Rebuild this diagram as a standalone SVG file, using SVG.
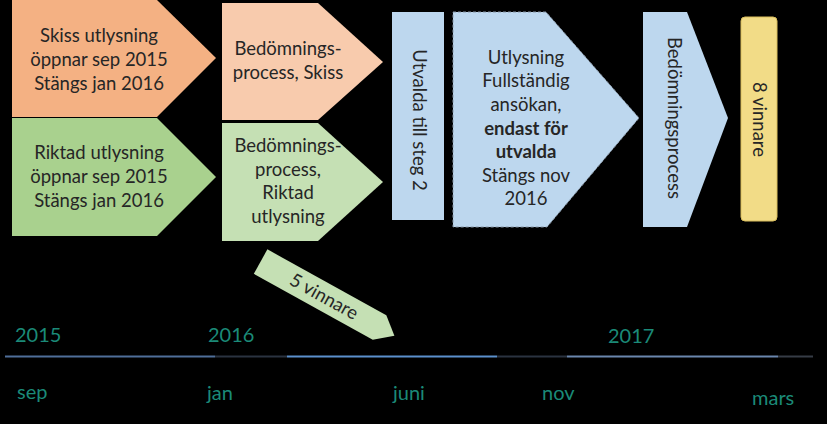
<svg xmlns="http://www.w3.org/2000/svg" width="827" height="424" viewBox="0 0 827 424">
<style>
.t{font-family:Lato,"Liberation Sans",sans-serif;font-size:18.5px;fill:#262626;text-anchor:middle}
.b{font-weight:bold}
.tl{font-family:Lato,"Liberation Sans",sans-serif;font-size:20px;fill:#1b8a78}
</style>
<rect x="0" y="0" width="827" height="424" fill="#000"/>
<g id="skiss-utlysning">
<polygon points="12,0 157,0 216,58 157,117 12,117" fill="#f4b183"/>
<text class="t"><tspan x="99" y="42">Skiss utlysning</tspan><tspan x="99" y="66">öppnar sep 2015</tspan><tspan x="99" y="90">Stängs jan 2016</tspan></text>
</g>
<g id="riktad-utlysning">
<polygon points="12,118 157,118 216,177 157,236 12,236" fill="#a9d18e"/>
<text class="t"><tspan x="99" y="159">Riktad utlysning</tspan><tspan x="99" y="183">öppnar sep 2015</tspan><tspan x="99" y="207">Stängs jan 2016</tspan></text>
</g>
<g id="bedomning-skiss">
<polygon points="222,3 318,3 383,62 318,120 222,120" fill="#f8cbad"/>
<text class="t"><tspan x="288" y="55">Bedömnings-</tspan><tspan x="288" y="79">process, Skiss</tspan></text>
</g>
<g id="bedomning-riktad">
<polygon points="222,123 318,123 383,182 318,241 222,241" fill="#c5e0b4"/>
<text class="t"><tspan x="288" y="152">Bedömnings-</tspan><tspan x="288" y="176">process,</tspan><tspan x="288" y="199">Riktad</tspan><tspan x="288" y="223">utlysning</tspan></text>
</g>
<g id="utvalda">
<rect x="392" y="12" width="52" height="208" fill="#bdd7ee"/>
<text class="t" transform="translate(419,120) rotate(90)" y="6.5">Utvalda till steg 2</text>
</g>
<g id="utlysning-fullstandig">
<polygon points="453,12 546,12 639,118 547,227 453,227" fill="#bdd7ee" stroke="#8796a6" stroke-width="1" stroke-dasharray="3,2"/>
<text class="t"><tspan x="526" y="64">Utlysning</tspan><tspan x="526" y="87">Fullständig</tspan><tspan x="526" y="111">ansökan,</tspan><tspan x="526" y="135" class="b">endast för</tspan><tspan x="526" y="158" class="b">utvalda</tspan><tspan x="526" y="182">Stängs nov</tspan><tspan x="526" y="205">2016</tspan></text>
</g>
<g id="bedomningsprocess">
<polygon points="643,12 687,12 728,118 687,227 643,227" fill="#bdd7ee"/>
<text class="t" transform="translate(674,118) rotate(90)" y="6.5">Bedömningsprocess</text>
</g>
<g id="vinnare8">
<rect x="741" y="17" width="36" height="204" rx="4" fill="#f2dc87" stroke="#d9bd5c" stroke-width="1"/>
<text class="t" transform="translate(759,119.5) rotate(90)" y="6.5">8 vinnare</text>
</g>
<g id="vinnare5">
<g transform="translate(327.5,298.7) rotate(29)">
<polygon points="-76.5,-14 59.5,-14 76.5,0 59.5,14 -76.5,14" fill="#c5e0b4"/>
<text class="t" x="-4" y="6">5 vinnare</text>
</g>
</g>
<g id="connectors">
<line x1="5" y1="356.5" x2="215" y2="356.5" stroke="#4f6e99" stroke-width="2"/>
<line x1="215" y1="356.5" x2="287" y2="356.5" stroke="#2a3340" stroke-width="2"/>
<line x1="287" y1="356.5" x2="497" y2="356.5" stroke="#5b8fcc" stroke-width="2"/>
<line x1="497" y1="356.5" x2="567" y2="356.5" stroke="#2a3340" stroke-width="2"/>
<line x1="567" y1="356.5" x2="778" y2="356.5" stroke="#6a86ad" stroke-width="2"/>
<line x1="778" y1="356.5" x2="813" y2="356.5" stroke="#363c46" stroke-width="2"/>
</g>
<g id="timeline-labels">
<text class="tl" x="15" y="342">2015</text>
<text class="tl" x="208" y="342">2016</text>
<text class="tl" x="608" y="343">2017</text>
<text class="tl" x="17" y="399">sep</text>
<text class="tl" x="207" y="400">jan</text>
<text class="tl" x="393" y="400">juni</text>
<text class="tl" x="542" y="400">nov</text>
<text class="tl" x="752" y="405">mars</text>
</g>
</svg>
